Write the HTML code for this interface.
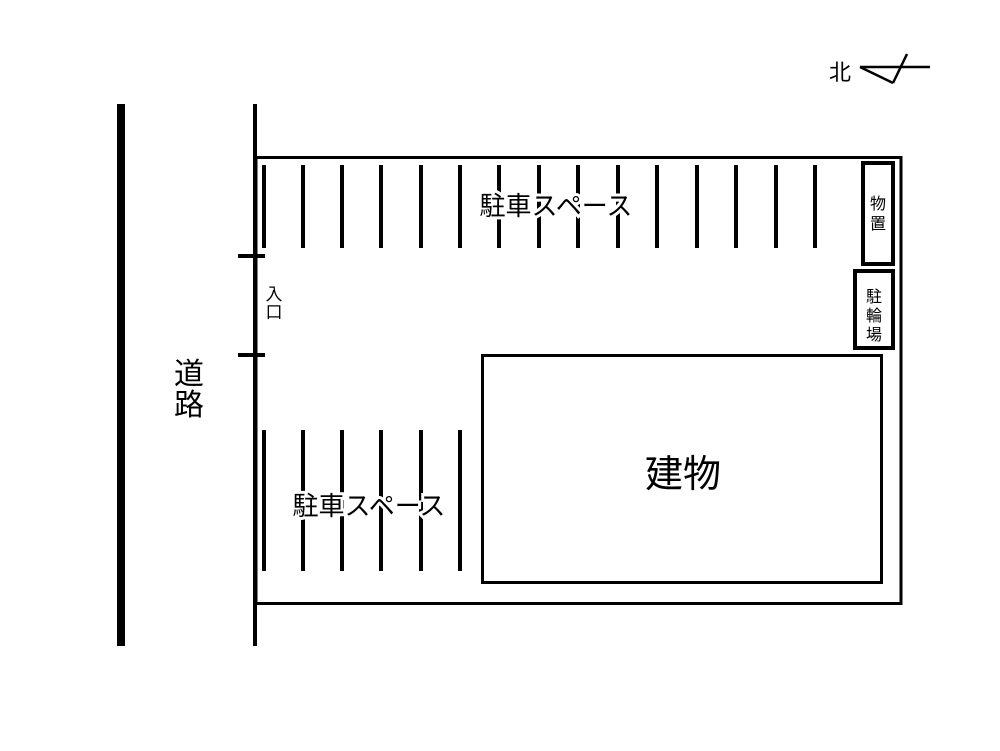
<!DOCTYPE html>
<html><head><meta charset="utf-8"><style>html,body{margin:0;padding:0;background:#fff}svg{display:block}</style></head>
<body>
<svg width="1000" height="751" viewBox="0 0 1000 751" xmlns="http://www.w3.org/2000/svg" font-family="'Liberation Sans','Noto Sans CJK JP',sans-serif">
<rect width="1000" height="751" fill="#fff"/>
<line x1="121" y1="104" x2="121" y2="646" stroke="#000" stroke-width="8"/>
<line x1="255" y1="104" x2="255" y2="646" stroke="#000" stroke-width="4"/>
<rect x="256" y="157.5" width="645" height="446" fill="none" stroke="#000" stroke-width="3"/>
<line x1="238" y1="256" x2="265" y2="256" stroke="#000" stroke-width="4"/>
<line x1="238" y1="355" x2="265" y2="355" stroke="#000" stroke-width="4"/>
<g stroke="#000" stroke-width="4">
<line x1="264" y1="165" x2="264" y2="248"/><line x1="303" y1="165" x2="303" y2="248"/>
<line x1="342" y1="165" x2="342" y2="248"/><line x1="381" y1="165" x2="381" y2="248"/>
<line x1="421" y1="165" x2="421" y2="248"/><line x1="460" y1="165" x2="460" y2="248"/>
<line x1="499" y1="165" x2="499" y2="248"/><line x1="539" y1="165" x2="539" y2="248"/>
<line x1="578" y1="165" x2="578" y2="248"/><line x1="618" y1="165" x2="618" y2="248"/>
<line x1="657" y1="165" x2="657" y2="248"/><line x1="697" y1="165" x2="697" y2="248"/>
<line x1="736" y1="165" x2="736" y2="248"/><line x1="776" y1="165" x2="776" y2="248"/>
<line x1="815" y1="165" x2="815" y2="248"/>
<line x1="264" y1="430" x2="264" y2="571"/><line x1="303" y1="430" x2="303" y2="571"/>
<line x1="342" y1="430" x2="342" y2="571"/><line x1="381" y1="430" x2="381" y2="571"/>
<line x1="421" y1="430" x2="421" y2="571"/><line x1="460" y1="430" x2="460" y2="571"/>
</g>
<rect x="863" y="163" width="30" height="101" fill="#fff" stroke="#000" stroke-width="4"/>
<rect x="855" y="271" width="38" height="77" fill="#fff" stroke="#000" stroke-width="4"/>
<rect x="482.5" y="355.5" width="399" height="227" fill="#fff" stroke="#000" stroke-width="3"/>
<g paint-order="stroke" stroke="#fff" stroke-width="6" fill="#000">
<text x="556" y="215" font-size="26" text-anchor="middle">駐車スペース</text>
<text x="369" y="515" font-size="26" text-anchor="middle">駐車スペース</text>
</g>
<text x="683" y="487" font-size="38" text-anchor="middle">建物</text>
<text x="189" y="384" font-size="30" text-anchor="middle">道</text>
<text x="189" y="415" font-size="30" text-anchor="middle">路</text>
<text x="274" y="300" font-size="17" text-anchor="middle">入</text>
<text x="274" y="318" font-size="17" text-anchor="middle">口</text>
<text x="878" y="209" font-size="16" text-anchor="middle">物</text>
<text x="878" y="229" font-size="16" text-anchor="middle">置</text>
<text x="874" y="302" font-size="16" text-anchor="middle">駐</text>
<text x="874" y="321" font-size="16" text-anchor="middle">輪</text>
<text x="874" y="340" font-size="16" text-anchor="middle">場</text>
<text x="840" y="80" font-size="22" text-anchor="middle">北</text>
<g stroke="#000" stroke-width="2.5" fill="none">
<line x1="860" y1="67" x2="930" y2="67"/>
<line x1="860" y1="67" x2="893" y2="83"/>
<line x1="893" y1="83" x2="907" y2="54"/>
</g>
</svg>
</body></html>
